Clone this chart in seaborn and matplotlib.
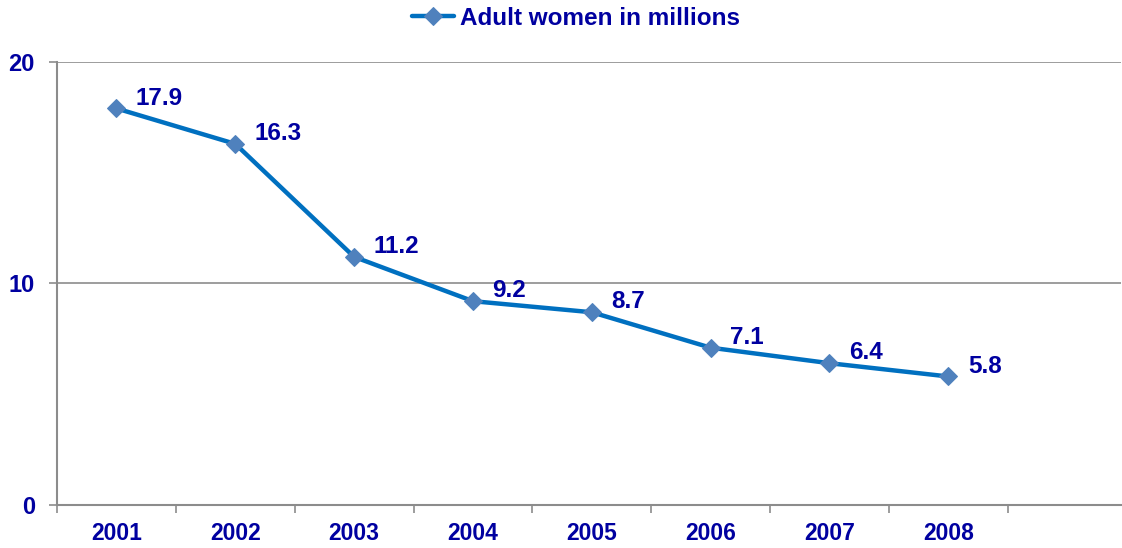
import matplotlib
matplotlib.use("Agg")
import matplotlib.pyplot as plt
import seaborn as sns
import numpy as np
import pandas as pd

years = ["2001", "2002", "2003", "2004", "2005", "2006", "2007", "2008"]
women_millions = [17.9, 16.3, 11.2, 9.2, 8.7, 7.1, 6.4, 5.8]
series_name = "Adult women in millions"
y_ticks = [0, 10, 20]

sns.set_theme(style="white")
plt.rcParams['font.family'] = ['Liberation Sans', 'DejaVu Sans']

TEXT = "#0000A0"
LINE = "#0070C0"
MARK = "#4F81BD"
GRID = "#8C8C8C"

df = pd.DataFrame({"pos": np.arange(len(years)), "value": women_millions})

fig = plt.figure(figsize=(11.22, 5.48), dpi=100)
ax = fig.add_axes([0.0508, 0.0785, 0.948, 0.8085])

sns.lineplot(data=df, x="pos", y="value", ax=ax, color=LINE, linewidth=3.2,
             marker="D", markersize=9, markerfacecolor=MARK, markeredgecolor=MARK,
             label=series_name, zorder=3)

for x, v in zip(df["pos"], df["value"]):
    ax.annotate(f"{v:.1f}", (x, v), xytext=(14, 7.5), textcoords="offset points",
                fontsize=17.5, fontweight="bold", color=TEXT, ha="left", va="center")

ax.set_xlim(-0.5, 8.45)
ax.set_ylim(0, 20)
ax.set_yticks(y_ticks)
ax.set_yticklabels([str(t) for t in y_ticks], fontsize=17, fontweight="bold", color=TEXT)
ax.tick_params(axis="y", length=6, width=1.2, color=GRID, direction="out", left=True, pad=10)

ax.set_xticks(np.arange(-0.5, len(years) + 0.5, 1.0))
ax.set_xticklabels([])
ax.tick_params(axis="x", which="major", length=6, width=1.2, color=GRID, direction="out", bottom=True)
ax.set_xticks(np.arange(len(years)), minor=True)
ax.set_xticklabels(years, minor=True, fontsize=16.5, fontweight="bold", color=TEXT)
ax.tick_params(axis="x", which="minor", length=0, pad=12)

ax.grid(False)
for t in [10, 20]:
    ax.axhline(t, color=GRID, linewidth=1.2, zorder=1)

for s in ["top", "right"]:
    ax.spines[s].set_visible(False)
for s in ["left", "bottom"]:
    ax.spines[s].set_color(GRID)
    ax.spines[s].set_linewidth(1.5)

ax.set_xlabel("")
ax.set_ylabel("")

leg = ax.legend(loc="center", bbox_to_anchor=(0.488, 1.099), frameon=False,
                prop={"size": 17.5, "weight": "bold"}, handlelength=1.7, handletextpad=0.25,
                borderpad=0.1)
for t in leg.get_texts():
    t.set_color(TEXT)

fig.savefig("out.png", dpi=100)
